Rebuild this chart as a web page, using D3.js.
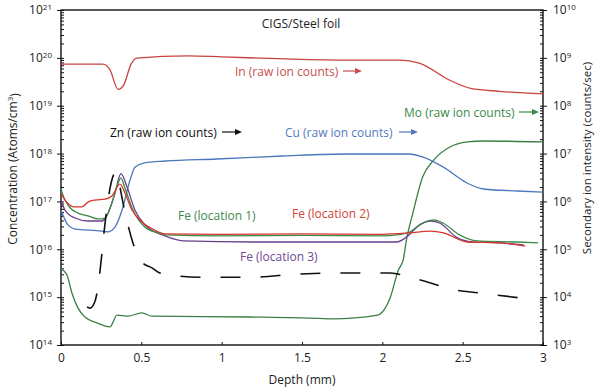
<!DOCTYPE html>
<html>
<head>
<meta charset="utf-8">
<script src="https://cdn.jsdelivr.net/npm/d3@7"></script>
<style>
  body { margin: 0; background: #fff; }
  svg { font-family: "Open Sans", sans-serif; }
</style>
</head>
<body>
<svg id="vis-svg"></svg>
<script>
// depth (mm) vs value
// raw ion counts (right axis)
const inCounts = [[0, 7.4e8], [0.26, 7.4e8], [0.305, 5.6e8], [0.355, 2.2e8], [0.39, 2.7e8], [0.436, 7.4e8],
  [0.47, 9.9e8], [0.79, 1.1e9], [1.0, 1.05e9], [1.4, 9.5e8], [1.8, 9.0e8], [2.11, 9.0e8], [2.23, 7.8e8],
  [2.42, 3.4e8], [2.55, 2.3e8], [2.73, 2.0e8], [3.0, 1.76e8]];
const cuCounts = [[0, 6.6e5], [0.044, 3.2e5], [0.087, 2.65e5], [0.255, 2.4e5], [0.29, 2.3e5], [0.336, 2.9e5],
  [0.38, 6.6e5], [0.43, 2.8e6], [0.46, 5.2e6], [0.52, 6.4e6], [0.65, 7.0e6], [0.97, 7.7e6], [1.38, 8.9e6],
  [1.8, 9.8e6], [2.17, 9.8e6], [2.25, 8.5e6], [2.38, 5.2e6], [2.53, 2.4e6], [2.63, 1.82e6], [2.84, 1.65e6],
  [3.0, 1.57e6]];
const moCounts = [[0, 4.0e4], [0.012, 3.7e4], [0.037, 2.9e4], [0.068, 1.22e4], [0.106, 5.9e3], [0.149, 3.85e3],
  [0.224, 2.9e3], [0.305, 2.4e3], [0.349, 4.2e3], [0.417, 4.0e3], [0.504, 4.7e3], [0.566, 4.0e3], [1.18, 3.85e3],
  [1.6, 3.6e3], [1.69, 3.5e3], [1.97, 4.2e3], [2.0, 4.9e3], [2.05, 1.0e4], [2.1, 3.7e4], [2.13, 6.0e4],
  [2.15, 1.56e5], [2.19, 5.7e5], [2.25, 3.2e6], [2.32, 7.3e6], [2.42, 1.37e7], [2.53, 1.75e7], [2.63, 1.83e7],
  [3.0, 1.75e7]];
const znCounts = [[0.162, 6.2e3], [0.18, 5.9e3], [0.21, 7.9e3], [0.224, 1.22e4], [0.255, 8.4e4], [0.268, 2.3e5],
  [0.342, 4.1e6], [0.373, 1.57e6], [0.386, 9.3e5], [0.417, 3.2e5], [0.448, 1.36e5], [0.504, 5.4e4],
  [0.566, 4.1e4], [0.616, 3.2e4], [0.865, 2.6e4], [1.176, 2.6e4], [1.49, 3.05e4], [1.8, 3.2e4], [2.05, 3.2e4],
  [2.17, 2.6e4], [2.3, 1.98e4], [2.42, 1.48e4], [2.61, 1.22e4], [2.92, 9.1e3]];

// Fe concentration, atoms/cm3 (left axis)
const fe1 = [[0, 1.9e17], [0.006, 1.57e17], [0.044, 8.4e16], [0.106, 5.7e16], [0.168, 5.0e16], [0.23, 4.3e16],
  [0.274, 4.5e16], [0.317, 9.3e16], [0.355, 2.4e17], [0.373, 3.1e17], [0.398, 1.9e17], [0.448, 6.6e16],
  [0.523, 2.9e16], [0.604, 2.2e16], [0.647, 2.0e16], [1.0, 1.9e16], [1.5, 1.95e16], [2.0, 1.9e16],
  [2.09, 2.0e16], [2.17, 2.3e16], [2.25, 3.5e16], [2.32, 4.1e16], [2.38, 3.5e16], [2.48, 2.0e16],
  [2.59, 1.5e16], [2.84, 1.42e16], [2.97, 1.36e16]];
const fe2 = [[0, 1.5e17], [0.025, 1.07e17], [0.087, 7.7e16], [0.131, 7.7e16], [0.168, 9.7e16], [0.212, 1.07e17],
  [0.274, 1.12e17], [0.317, 1.3e17], [0.367, 2.3e17], [0.398, 1.5e17], [0.442, 6.6e16], [0.504, 3.7e16],
  [0.585, 2.5e16], [0.647, 2.1e16], [1.0, 2.05e16], [1.5, 2.1e16], [2.0, 2.05e16], [2.17, 2.2e16],
  [2.3, 2.4e16], [2.38, 2.2e16], [2.53, 1.42e16], [2.73, 1.36e16], [2.89, 1.17e16]];
const fe3 = [[0, 1.07e17], [0.025, 6.6e16], [0.087, 4.5e16], [0.168, 3.9e16], [0.255, 3.9e16], [0.293, 5.7e16],
  [0.336, 1.5e17], [0.373, 3.8e17], [0.411, 2.0e17], [0.46, 6.6e16], [0.523, 3.2e16], [0.647, 1.9e16],
  [0.76, 1.5e16], [1.2, 1.42e16], [2.09, 1.42e16], [2.15, 1.8e16], [2.23, 3.2e16], [2.3, 3.9e16],
  [2.36, 3.5e16], [2.46, 1.8e16], [2.56, 1.42e16], [2.73, 1.36e16], [2.88, 1.23e16]];

const depthTicks = [0, 0.5, 1, 1.5, 2, 2.5, 3];
const leftDecades = [1e14, 1e15, 1e16, 1e17, 1e18, 1e19, 1e20, 1e21];
const rightDecades = [1e3, 1e4, 1e5, 1e6, 1e7, 1e8, 1e9, 1e10];

let margin = {top: 10, right: 57, bottom: 44, left: 61},
    width = 600 - margin.left - margin.right,
    height = 389 - margin.top - margin.bottom;

const svg = d3.select("#vis-svg")
    .attr("width", 600)
    .attr("height", 389)
  .append("g")
    .attr("transform", "translate(" + margin.left + "," + margin.top + ")");

const x = d3.scaleLinear().domain([0, 3]).range([0, width]),
      yL = d3.scaleLog().domain([1e14, 1e21]).range([height, 0]),
      yR = d3.scaleLog().domain([1e3, 1e10]).range([height, 0]);

// minor ticks 2..9 within each decade
function minors(decades) {
    let out = [];
    decades.slice(0, -1).forEach(d => { for (let k = 2; k < 10; k++) out.push(d * k); });
    return out;
}

function powLabel(sel) {
    sel.each(function(d) {
        const t = d3.select(this).text(null);
        t.append("tspan").text("10");
        t.append("tspan").attr("dy", "-0.5em").attr("font-size", "8px")
            .text(Math.round(Math.log10(d)));
    });
}

svg.append("defs").append("clipPath").attr("id", "clip")
  .append("rect").attr("width", width).attr("height", height);

// frame
svg.append("rect")
    .attr("width", width).attr("height", height)
    .attr("fill", "none").attr("stroke", "#111").attr("stroke-width", 1.4);

// left axis
svg.append("g")
    .call(d3.axisLeft(yL).tickValues(minors(leftDecades)).tickSize(0).tickFormat(""))
    .call(g => g.select(".domain").remove())
    .selectAll("line").attr("x2", 3).attr("stroke", "#111");
let gl = svg.append("g")
    .call(d3.axisLeft(yL).tickValues(leftDecades).tickSize(4).tickPadding(5))
    .call(g => g.select(".domain").remove());
gl.selectAll("line").attr("x1", 3).attr("stroke", "#111");
gl.selectAll("text").attr("font-size", "12px").attr("font-family", "Open Sans").attr("fill", "#222").call(powLabel);

// right axis
let gr0 = svg.append("g").attr("transform", "translate(" + width + ",0)")
    .call(d3.axisRight(yR).tickValues(minors(rightDecades)).tickSize(0).tickFormat(""))
    .call(g => g.select(".domain").remove());
gr0.selectAll("line").attr("x2", -3).attr("stroke", "#111");
let gr = svg.append("g").attr("transform", "translate(" + width + ",0)")
    .call(d3.axisRight(yR).tickValues(rightDecades).tickSize(4).tickPadding(6))
    .call(g => g.select(".domain").remove());
gr.selectAll("line").attr("x1", -3).attr("stroke", "#111");
gr.selectAll("text").attr("font-size", "12px").attr("font-family", "Open Sans").attr("fill", "#222").call(powLabel);

// bottom axis
let gx = svg.append("g").attr("transform", "translate(0," + height + ")")
    .call(d3.axisBottom(x).tickValues(depthTicks).tickSize(0).tickPadding(8).tickFormat(d => String(d)))
    .call(g => g.select(".domain").remove());
gx.selectAll(".tick").append("line").attr("y2", -3).attr("stroke", "#111");
gx.selectAll("text").attr("font-size", "12px").attr("font-family", "Open Sans").attr("fill", "#222");

// axis titles
svg.append("text")
    .attr("x", width / 2).attr("y", height + 39)
    .attr("text-anchor", "middle").attr("font-size", "12px").attr("fill", "#222")
    .text("Depth (mm)");

let yt = svg.append("text")
    .attr("transform", "translate(" + (17 - margin.left) + "," + 159 + ") rotate(-90)")
    .attr("text-anchor", "middle").attr("font-size", "12px").attr("fill", "#222");
yt.append("tspan").text("Concentration (Atoms/cm");
yt.append("tspan").attr("dy", "-0.45em").attr("font-size", "8px").text("3");
yt.append("tspan").attr("dy", "0.45em").text(")");

svg.append("text")
    .attr("transform", "translate(" + (591 - margin.left) + "," + 148 + ") rotate(-90)")
    .attr("text-anchor", "middle").attr("font-size", "11.5px").attr("fill", "#222")
    .text("Secondary ion intensity (counts/sec)");

// title
svg.append("text")
    .attr("x", 301 - margin.left).attr("y", 28 - margin.top)
    .attr("text-anchor", "middle").attr("font-size", "12px").attr("fill", "#222")
    .text("CIGS/Steel foil");

// curves
const plot = svg.append("g").attr("clip-path", "url(#clip)");

function drawLine(data, yScale, color, dash, sw) {
    const line = d3.line()
        .x(d => x(d[0]))
        .y(d => yScale(d[1]))
        .curve(d3.curveMonotoneX);
    plot.append("path")
        .datum(data)
        .attr("d", line)
        .attr("fill", "none")
        .attr("stroke", color)
        .attr("stroke-width", sw || 1.3)
        .attr("stroke-dasharray", dash || null)
        .attr("stroke-linejoin", "round");
}

drawLine(moCounts, yR, "#3a7f45");
drawLine(cuCounts, yR, "#4a78bb");
drawLine(inCounts, yR, "#c8423f");
drawLine(fe3, yL, "#6b3f8c");
drawLine(fe1, yL, "#3c8a48");
drawLine(fe2, yL, "#d8352a");
drawLine(znCounts, yR, "#111", "20,20", 1.6);

// labels with arrows, pixel positions relative to the picture
const labels = [
    {text: "In (raw ion counts)", x: 235, y: 76, color: "#c4504d", arrow: [343, 362]},
    {text: "Zn (raw ion counts)", x: 110, y: 137, color: "#111", arrow: [222, 242]},
    {text: "Cu (raw ion counts)", x: 285, y: 137, color: "#5479bb", arrow: [399, 418]},
    {text: "Mo (raw ion counts)", x: 404, y: 117, color: "#3b8a4a", arrow: [519, 539]},
    {text: "Fe (location 1)", x: 178, y: 220, color: "#3b8a4a"},
    {text: "Fe (location 2)", x: 292, y: 218, color: "#d0443a"},
    {text: "Fe (location 3)", x: 240, y: 261, color: "#6e4a91"}
];

labels.forEach(l => {
    svg.append("text")
        .attr("x", l.x - margin.left).attr("y", l.y - margin.top)
        .attr("font-size", "12px").attr("fill", l.color)
        .text(l.text);
    if (l.arrow) {
        const ay = l.y - 5 - margin.top,
              a0 = l.arrow[0] - margin.left,
              a1 = l.arrow[1] - margin.left;
        svg.append("line")
            .attr("x1", a0).attr("x2", a1 - 4).attr("y1", ay).attr("y2", ay)
            .attr("stroke", l.color).attr("stroke-width", 1.2);
        svg.append("path")
            .attr("d", "M" + a1 + "," + ay + "L" + (a1 - 7) + "," + (ay - 3) + "L" + (a1 - 7) + "," + (ay + 3) + "Z")
            .attr("fill", l.color);
    }
});
</script>
</body>
</html>
